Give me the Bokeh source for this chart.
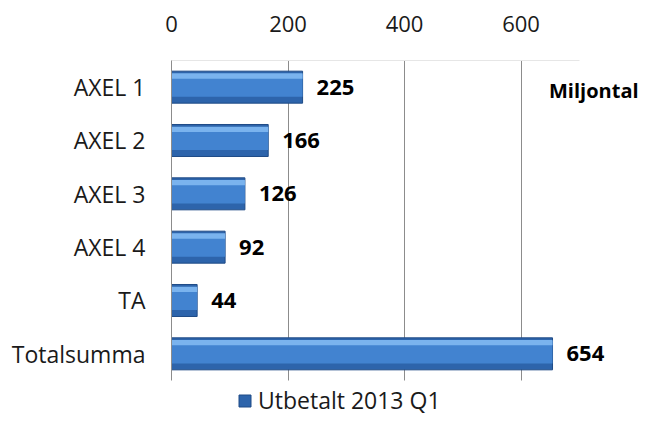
from bokeh.plotting import figure
from bokeh.models import (ColumnDataSource, Range1d, FixedTicker, LabelSet,
                          Legend, LegendItem)
from bokeh.core.properties import value
from bokeh.transform import dodge
from bokeh.embed import file_html
from bokeh.resources import INLINE

categories = ["AXEL 1", "AXEL 2", "AXEL 3", "AXEL 4", "TA", "Totalsumma"]
values = [225, 166, 126, 92, 44, 654]
value_labels = ["225", "166", "126", "92", "44", "654"]
x_ticks = [0, 200, 400, 600]
series_name = "Utbetalt 2013 Q1"
unit_note = "Miljontal"

pos = list(range(len(categories)))
src = ColumnDataSource(dict(pos=pos, cat=categories, val=values, lab=value_labels))

n = len(categories)
# frame: 60px top .. 418px bottom; one category slot = 53.33px
p = figure(width=640, height=418, output_backend="svg", toolbar_location=None,
           x_axis_location="above",
           y_range=Range1d(start=n - 0.5 + 38 / 53.33, end=-0.5),
           x_range=(0, 805),
           min_border_left=171, min_border_right=0,
           min_border_top=60, min_border_bottom=0)
p.outline_line_color = None
p.background_fill_color = "white"

base = p.hbar(y="pos", right="val", left=0, height=0.6, source=src,
              fill_color="#2d64ab", line_color="#1f4b86", line_width=1)
p.hbar(y=dodge("pos", -0.03), right="val", left=0, height=0.42,
       source=src, fill_color="#4283d0", line_color=None)
p.hbar(y=dodge("pos", -0.21), right="val", left=0, height=0.1,
       source=src, fill_color="#7ab3ee", line_color=None)

labels = LabelSet(x="val", y="pos", text="lab", source=src, x_offset=14,
                  text_baseline="middle", text_align="left",
                  text_font=value("Open Sans"), text_font_style="bold",
                  text_font_size="22px", text_color="#000000")
p.add_layout(labels)

note_src = ColumnDataSource(dict(x=[648], y=[pos[0]], t=[unit_note]))
note = LabelSet(x="x", y="y", text="t", source=note_src, y_offset=-3,
                text_baseline="middle", text_align="left",
                text_font=value("Open Sans"), text_font_style="bold",
                text_font_size="20px", text_color="#000000")
p.add_layout(note)

xa = p.xaxis[0]
xa.ticker = FixedTicker(ticks=x_ticks)
xa.bounds = (0, 700)
xa.major_tick_line_color = None
xa.minor_tick_line_color = None
xa.axis_line_color = "#e6e6e6"
xa.major_label_standoff = 23
xa.major_label_text_font = "Open Sans"
xa.major_label_text_font_size = "22px"
xa.major_label_text_color = "#1a1a1a"

ya = p.yaxis[0]
ya.ticker = FixedTicker(ticks=pos)
ya.major_label_overrides = {i: c for i, c in zip(pos, categories)}
ya.bounds = (-0.5, n - 0.5)
ya.major_tick_line_color = None
ya.minor_tick_line_color = None
ya.axis_line_color = "#8c8c8c"
ya.major_label_standoff = 20
ya.major_label_text_font = "Open Sans"
ya.major_label_text_font_size = "23px"
ya.major_label_text_color = "#1a1a1a"

xg = p.xgrid[0]
xg.ticker = FixedTicker(ticks=x_ticks[1:])
xg.grid_line_color = "#8c8c8c"
try:
    xg.cross_bounds = (-0.5, n - 0.5)
except Exception:
    pass
p.ygrid.grid_line_color = None

legend = Legend(items=[LegendItem(label=series_name, renderers=[base])],
                location=(66, 2), orientation="horizontal",
                border_line_color=None, background_fill_alpha=0,
                padding=0, margin=0, glyph_width=15, glyph_height=15,
                label_standoff=6, label_text_font="Open Sans",
                label_text_font_size="23px", label_text_color="#1a1a1a")
p.add_layout(legend, "center")

open("out.html", "w").write(file_html(p, INLINE))
